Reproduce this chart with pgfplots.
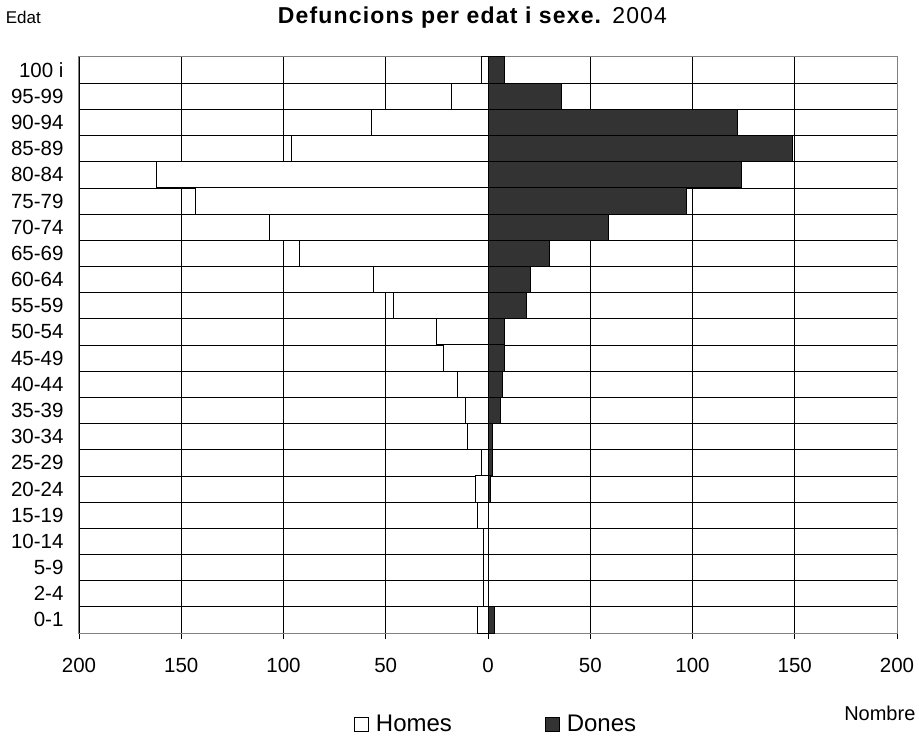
\documentclass[border=0pt]{standalone}
\usepackage{pgfplots}
\pgfplotsset{compat=1.18}
\usepackage{pgfplotstable}
\usepackage{fontspec}
\setmainfont{Liberation Sans}
\definecolor{dones}{HTML}{333333}
\definecolor{frame}{HTML}{808080}

% Defuncions per edat i sexe, 2004 (0 = 0-1 ... 21 = 100 i)
\pgfplotstableread{
y homes dones
0  -5   3
1  -2   0
2  -2   0
3  -2   0
4  -5   0
5  -6   1
6  -3   2
7  -10  2
8  -11  6
9  -15  7
10 -22  8
11 -25  8
12 -46  19
13 -56  21
14 -92  30
15 -107 59
16 -143 97
17 -162 124
18 -96  149
19 -57  122
20 -18  36
21 -3   8
}\defuncions

\begin{document}
\begin{tikzpicture}
\begin{axis}[
	name=ax,
	at={(0,0)}, anchor=south west,
	scale only axis,
	width=818bp, height=576bp,
	xbar, bar width=1, bar shift=0pt,
	xmin=-200, xmax=200,
	ymin=-0.5, ymax=21.5,
	xtick={-200,-150,...,200},
	xticklabels={200,150,100,50,0,50,100,150,200},
	ytick={0,...,21},
	yticklabels={0-1,2-4,5-9,10-14,15-19,20-24,25-29,30-34,35-39,40-44,45-49,50-54,55-59,60-64,65-69,70-74,75-79,80-84,85-89,90-94,95-99,100 i},
	minor ytick={0.5,1.5,...,20.5},
	xmajorgrids, yminorgrids,
	major grid style={black, line width=0.8bp},
	minor grid style={black, line width=0.8bp},
	axis line style={frame, line width=1bp},
	tick style={black, line width=0.8bp},
	x tick label style={font=\fontsize{20.5bp}{24bp}\selectfont, yshift=-16bp},
	y tick label style={font=\fontsize{20.5bp}{24bp}\selectfont, xshift=-6bp},
	xtick pos=bottom, ytick pos=left,
	major tick length=6bp,
	ytick style={draw=none},
	xtick align=outside,
	/pgf/number format/assume math mode=true,
	legend style={
		at={(0.513,-0.158)}, anchor=center,
		draw=none, fill=none,
		legend columns=2,
		font=\fontsize{24bp}{28bp}\selectfont,
		nodes={inner xsep=7bp},
		/tikz/every even column/.append style={column sep=86bp},
	},
	legend image code/.code={
		\draw[#1, line width=0.8bp] (0bp,-7bp) rectangle (14bp,7bp);
	},
	clip=false,
]
\addplot[draw=black, fill=white, line width=1bp] table[x=homes, y=y] {\defuncions};
\addplot[draw=black, fill=dones, line width=1bp] table[x=dones, y=y] {\defuncions};
\legend{Homes, Dones}

\node[font=\fontsize{17bp}{20bp}\selectfont] at (rel axis cs:-0.068,1.069) {Edat};
\node[font=\fontsize{23bp}{27bp}\selectfont\addfontfeature{LetterSpace=5}] at (rel axis cs:0.481,1.069) {\textbf{Defuncions per edat i sexe.} 2004};
\node[font=\fontsize{20bp}{24bp}\selectfont] at (rel axis cs:0.979,-0.139) {Nombre};
\end{axis}
\pgfresetboundingbox
\path (ax.south west) ++(-79bp,-105bp) rectangle ++(919bp,738bp);
\end{tikzpicture}
\end{document}
